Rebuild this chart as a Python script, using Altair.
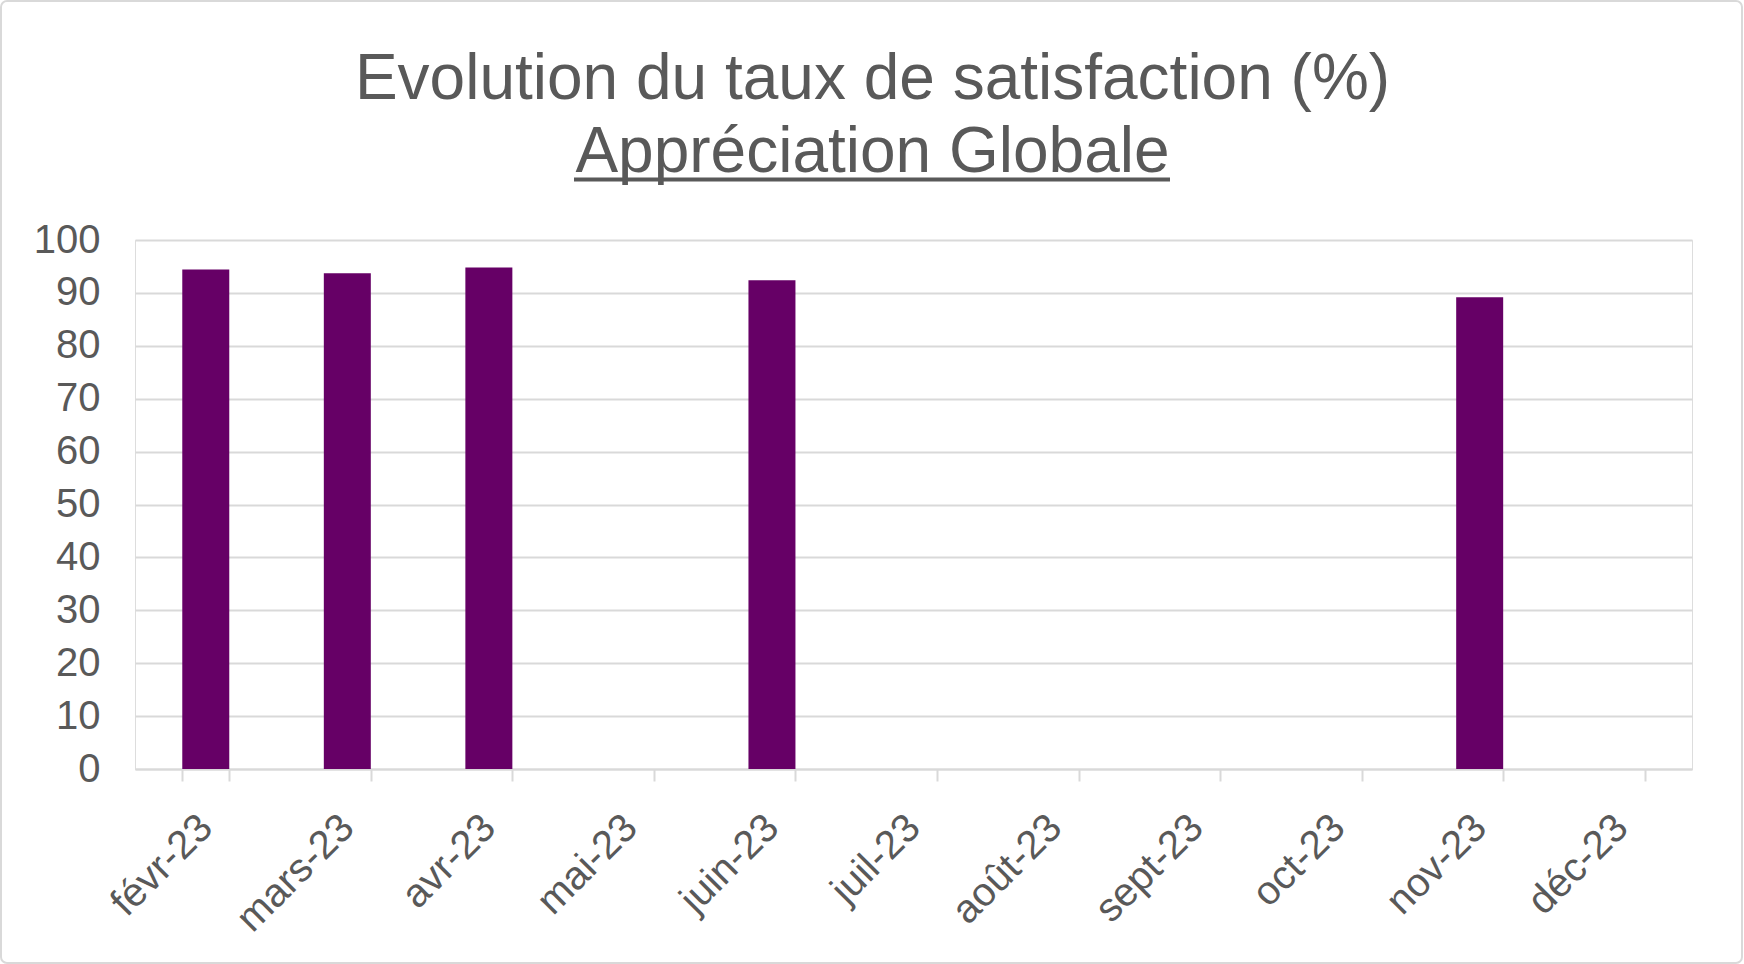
import altair as alt
import pandas as pd

months = ["févr-23", "mars-23", "avr-23", "mai-23", "juin-23", "juil-23",
          "août-23", "sept-23", "oct-23", "nov-23", "déc-23"]
values = [94.4, 93.7, 94.8, None, 92.4, None, None, None, None, 89.2, None]
y_ticks = list(range(0, 101, 10))
title_lines = ["Evolution du taux de satisfaction (%)", "Appréciation Globale"]

FONT = "Liberation Sans"
GREY = "#595959"
LIGHT = "#d9d9d9"

df = pd.DataFrame({"mois": months, "taux": values})

bars = alt.Chart(df).mark_bar(color="#660066").encode(
    x=alt.X("mois:N", sort=months,
            scale=alt.Scale(domain=months, paddingInner=0.668, paddingOuter=0.334),
            axis=alt.Axis(title=None, labelAngle=-45, labelFont=FONT, labelFontSize=40,
                          labelColor=GREY, labelPadding=40, labelAlign="right",
                          labelBaseline="middle", tickBand="extent",
                          tickColor=LIGHT, tickWidth=2, tickSize=12,
                          domainColor=LIGHT, domainWidth=2, grid=False)),
    y=alt.Y("taux:Q", scale=alt.Scale(domain=[0, 100], nice=False),
            axis=alt.Axis(title=None, values=y_ticks, domain=False, ticks=False,
                          labelFont=FONT, labelFontSize=40, labelColor=GREY,
                          labelPadding=35, gridColor=LIGHT, gridWidth=2)),
)

deco = alt.Data(values=[{"k": 1}])

underline = alt.Chart(deco).mark_rule(color=GREY, strokeWidth=4).encode(
    x=alt.value(439), x2=alt.value(1035), y=alt.value(-60.5)
)

border = alt.Chart(deco).mark_rect(fill=None, stroke=LIGHT, strokeWidth=2,
                                   cornerRadius=6, clip=False).encode(
    x=alt.value(-134), x2=alt.value(1607), y=alt.value(-239), y2=alt.value(723)
)

chart = alt.layer(border, bars, underline).properties(
    width=1557, height=529,
    padding={"left": 135, "top": 240, "right": 52, "bottom": 195},
    autosize=alt.AutoSizeParams(type="none"),
    title=alt.TitleParams(text=title_lines, font=FONT, fontSize=64, fontWeight="normal",
                          color=GREY, lineHeight=73, anchor="middle", frame="group",
                          baseline="bottom", dx=-41, offset=-249),
).configure_view(strokeWidth=0).configure(background="white")

chart.save("out.html", embed_options={"renderer": "svg", "actions": False})
